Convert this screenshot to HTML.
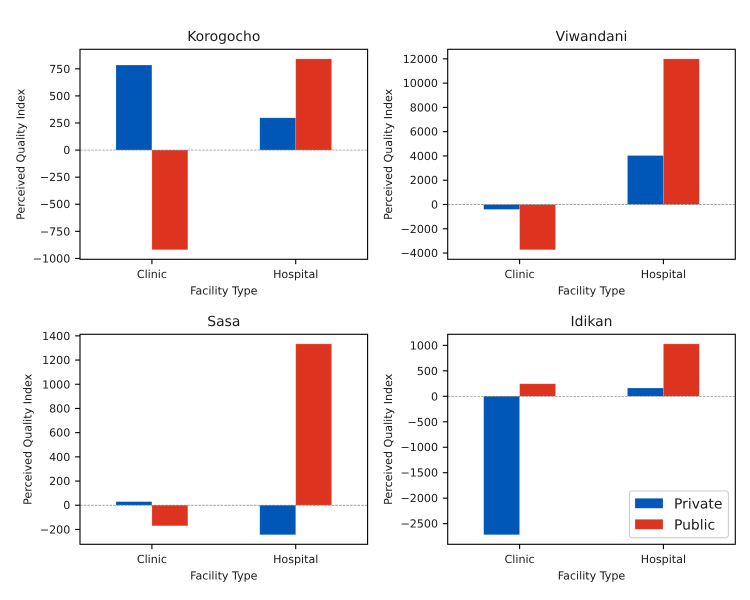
<!DOCTYPE html>
<html>
<head>
<meta charset="utf-8">
<title>Perceived Quality Index by Facility Type</title>
<style>
html,body{margin:0;padding:0;background:#fff;width:750px;height:600px;overflow:hidden}
svg{display:block}
text{font-family:"DejaVu Sans","Liberation Sans",sans-serif;fill:#1a1a1a;text-rendering:geometricPrecision}
</style>
</head>
<body>
<svg id="figure" xmlns="http://www.w3.org/2000/svg" width="750" height="600" viewBox="0 0 750 600"></svg>
<script>
var categories = ["Clinic", "Hospital"];
var seriesNames = ["Private", "Public"];
var panelTitles = ["Korogocho", "Viwandani", "Sasa", "Idikan"];
var korogochoPrivate = [785, 298];
var korogochoPublic = [-920, 842];
var viwandaniPrivate = [-410, 4035];
var viwandaniPublic = [-3730, 12000];
var sasaPrivate = [30, -244];
var sasaPublic = [-170, 1334];
var idikanPrivate = [-2718, 163];
var idikanPublic = [247, 1030];
var korogochoTicks = [-1000, -750, -500, -250, 0, 250, 500, 750];
var viwandaniTicks = [-4000, -2000, 0, 2000, 4000, 6000, 8000, 10000, 12000];
var sasaTicks = [-200, 0, 200, 400, 600, 800, 1000, 1200, 1400];
var idikanTicks = [-2500, -2000, -1500, -1000, -500, 0, 500, 1000];

var privateValues = [korogochoPrivate, viwandaniPrivate, sasaPrivate, idikanPrivate];
var publicValues = [korogochoPublic, viwandaniPublic, sasaPublic, idikanPublic];
var tickValues = [korogochoTicks, viwandaniTicks, sasaTicks, idikanTicks];

var NS = "http://www.w3.org/2000/svg";
var COLORS = ["#0057b7", "#dd3420"];
var svg = document.getElementById("figure");
var AXIS_W = 287.6, AXIS_H = 210;
var LEFTS = [80, 447.7], TOPS = [49.3, 334.3];

function make(tag, attrs, parent, content) {
  var el = document.createElementNS(NS, tag);
  for (var k in attrs) el.setAttribute(k, attrs[k]);
  if (content !== undefined) el.textContent = content;
  parent.appendChild(el);
  return el;
}
function slug(s) { return s.toLowerCase(); }

function drawPanel(idx) {
  var left = LEFTS[idx % 2], top = TOPS[Math.floor(idx / 2)];
  var right = left + AXIS_W, bottom = top + AXIS_H;
  var title = panelTitles[idx], prefix = slug(title);
  var priv = privateValues[idx], pub = publicValues[idx];

  var g = make("g", {}, svg);
  
  

  var all = priv.concat(pub, [0]);
  var lo = Math.min.apply(null, all), hi = Math.max.apply(null, all);
  var pad = (hi - lo) * 0.05;
  var yMin = lo - pad, yMax = hi + pad;
  function yScale(v) { return bottom - (v - yMin) / (yMax - yMin) * AXIS_H; }
  function xScale(v) { return left + (v + 0.5) / 2 * AXIS_W; }
  var barW = xScale(0.25) - xScale(0);

  [priv, pub].forEach(function (vals, s) {
    vals.forEach(function (v, c) {
      var x = s === 0 ? xScale(c) - barW : xScale(c);
      var y0 = yScale(Math.max(v, 0)), y1 = yScale(Math.min(v, 0));
      var bar = make("rect", {x: x, y: y0, width: barW, height: y1 - y0, fill: COLORS[s], stroke: "#ffffff", "stroke-opacity": 0.3, "stroke-width": 0.7}, g);
      
      
    });
  });

  var zero = make("line", {x1: left, x2: right, y1: yScale(0), y2: yScale(0), stroke: "#808080", "stroke-width": 0.7, "stroke-dasharray": "2.6 1.1"}, g);
  
  

  var frame = make("rect", {x: left, y: top, width: AXIS_W, height: AXIS_H, fill: "none", stroke: "#000", "stroke-width": 1.1}, g);
  
  

  categories.forEach(function (cat, c) {
    var tx = xScale(c);
    var tick = make("line", {x1: tx, x2: tx, y1: bottom, y2: bottom + 4.9, stroke: "#000", "stroke-width": 1.1}, g);
    
    
    var lab = make("text", {x: tx, y: bottom + 18.6, "text-anchor": "middle", "font-size": 11.1}, g, cat);
    
    
  });

  var maxW = 0;
  tickValues[idx].forEach(function (v) {
    if (v < yMin || v > yMax) return;
    var ty = yScale(v);
    var tick = make("line", {x1: left - 4.9, x2: left, y1: ty, y2: ty, stroke: "#000", "stroke-width": 1.1}, g);
    
    
    var str = (v < 0 ? "\u2212" : "") + Math.abs(v);
    var lab = make("text", {x: left - 9.7, y: ty + 4, "text-anchor": "end", "font-size": 11.1}, g, str);
    
    
    maxW = Math.max(maxW, lab.getComputedTextLength());
  });

  var t = make("text", {x: left + AXIS_W / 2, y: top - 8.3, "text-anchor": "middle", "font-size": 13.9}, g, title);
  
  

  var xl = make("text", {x: left + AXIS_W / 2, y: bottom + 35, "text-anchor": "middle", "font-size": 11.1}, g, "Facility Type");
  
  

  var lx = left - 9.7 - maxW - 12.4, ly = (top + bottom) / 2;
  var yl = make("text", {x: 0, y: 0, transform: "translate(" + (lx + 4) + "," + ly + ") rotate(-90)", "text-anchor": "middle", "font-size": 11.1}, g, "Perceived Quality Index");
  
  
}

for (var p = 0; p < panelTitles.length; p++) drawPanel(p);

var legend = make("g", {}, svg);


var legendBox = make("rect", {x: 629.4, y: 491, width: 99, height: 46.7, rx: 2.8, fill: "#fff", "fill-opacity": 0.8, stroke: "#cccccc", "stroke-width": 1.1}, legend);


seriesNames.forEach(function (name, s) {
  var sy = 498.3 + s * 21;
  var sw = make("rect", {x: 635, y: sy, width: 28, height: 10, fill: COLORS[s], stroke: "#ffffff", "stroke-opacity": 0.3, "stroke-width": 0.7}, legend);
  
  
  var lt = make("text", {x: 674, y: sy + 10, "font-size": 13.9}, legend, name);
  
  
});
</script>
</body>
</html>
